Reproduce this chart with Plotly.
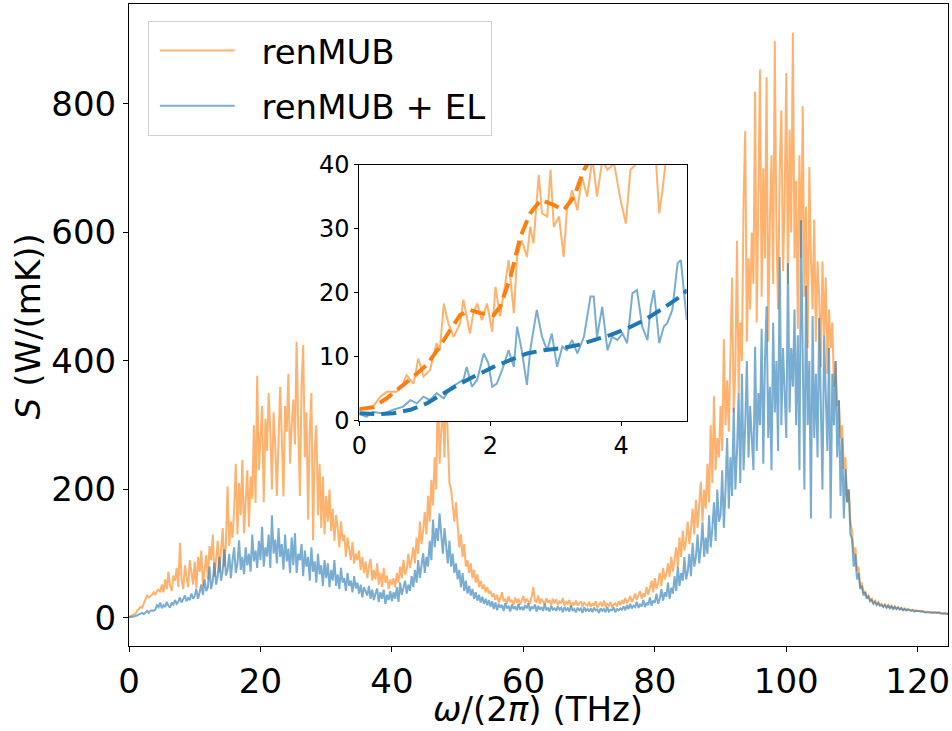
import numpy as np
import plotly.graph_objects as go

# ---------------- data ----------------
freq_step = 0.25
freq = np.round(np.arange(0, 125, freq_step), 2)  # THz grid 0..124.75

renmub = [
    1.7, 3, 4.5, 6, 7, 11, 15, 17, 16, 22, 27, 35, 32, 34, 36, 40, 36, 42, 44, 40,
    52, 40, 60, 45, 72, 50, 42, 66, 58, 78, 48, 117, 60, 45, 82, 64, 48, 90, 66, 52,
    88, 46, 95, 72, 105, 50, 76, 98, 60, 112, 90, 130, 64, 100, 120, 70, 108, 140, 80, 118,
    205, 112, 150, 125, 170, 240, 130, 210, 160, 246, 132, 190, 230, 142, 220, 185, 300, 179, 377, 230,
    280, 330, 180, 310, 260, 350, 290, 200, 320, 270, 190, 300, 360, 280, 189, 330, 290, 380, 240, 300,
    340, 270, 430, 300, 190, 360, 425, 250, 320, 153, 290, 350, 121, 260, 300, 160, 240, 140, 220, 130,
    190, 150, 200, 135, 170, 120, 160, 140, 110, 150, 120, 130, 95, 125, 105, 90, 118, 85, 100, 90,
    105, 75, 95, 70, 88, 62, 80, 92, 58, 75, 60, 85, 52, 70, 48, 78, 55, 66, 45, 60,
    52, 62, 48, 70, 55, 80, 62, 90, 68, 75, 100, 78, 92, 110, 85, 125, 100, 150, 115, 135,
    165, 130, 190, 150, 215, 175, 250, 200, 386, 240, 290, 330, 250, 370, 280, 210, 200, 170, 150, 180,
    140, 110, 130, 95, 115, 80, 90, 70, 85, 62, 75, 55, 68, 48, 58, 45, 52, 40, 48, 38,
    42, 33, 38, 28, 36, 24, 32, 40, 26, 30, 22, 34, 25, 28, 20, 32, 24, 30, 21, 27,
    34, 23, 30, 26, 22, 33, 48, 27, 25, 35, 22, 30, 26, 21, 31, 24, 28, 20, 30, 23,
    29, 20, 26, 24, 31, 19, 25, 22, 28, 17, 24, 20, 27, 19, 23, 26, 18, 24, 21, 19,
    25, 17, 22, 20, 26, 16, 21, 24, 18, 27, 17, 22, 19, 25, 16, 21, 23, 18, 26, 20,
    28, 22, 31, 24, 27, 34, 25, 30, 38, 28, 35, 42, 30, 38, 33, 48, 36, 45, 58, 40,
    62, 45, 55, 70, 50, 78, 60, 68, 85, 64, 95, 72, 88, 110, 80, 125, 95, 136, 105, 120,
    150, 115, 140, 170, 130, 184, 140, 175, 212, 150, 200, 170, 240, 180, 300, 210, 345, 230, 280, 250,
    330, 260, 434, 300, 370, 290, 420, 530, 320, 390, 587, 350, 460, 400, 650, 758, 430, 560, 480, 600,
    520, 819, 460, 650, 854, 500, 700, 560, 842, 430, 620, 720, 520, 898, 600, 480, 700, 790, 540, 650,
    848, 520, 760, 600, 911, 560, 680, 450, 720, 560, 797, 500, 640, 420, 702, 560, 480, 620, 430, 555,
    500, 390, 555, 440, 530, 380, 480, 420, 460, 360, 400, 330, 339, 280, 300, 232, 250, 180, 200, 150,
    136, 100, 110, 73, 80, 47, 55, 38, 42, 32, 35, 28, 30, 24, 27, 22, 25, 20, 22, 18,
    22, 17, 20, 16, 19, 15, 18, 14, 17, 14, 16, 13, 15, 12, 14, 13, 12, 13, 11, 12,
    12, 11, 10, 11, 10, 9, 10, 9, 9, 8, 9, 8, 8, 9, 8, 7, 8, 7, 7, 7,
]

renmub_el = [
    1.1, 1.2, 1.7, 2.2, 3.5, 3.8, 5.5, 6.5, 8, 6, 9, 11, 8, 11, 12, 11, 13, 20, 17, 24,
    15, 20, 17, 25, 19, 16, 24, 21, 28, 22, 25, 32, 24, 29, 35, 26, 31, 28, 38, 30,
    34, 45, 30, 40, 52, 36, 60, 42, 48, 80, 45, 58, 86, 52, 65, 95, 58, 72, 107, 66,
    75, 100, 62, 90, 110, 70, 85, 121, 75, 95, 68, 110, 82, 100, 72, 130, 88, 105, 78, 120,
    90, 142, 80, 110, 96, 130, 78, 160, 100, 122, 85, 140, 95, 115, 75, 130, 88, 108, 70, 125,
    82, 132, 70, 100, 90, 115, 65, 105, 80, 95, 58, 110, 72, 88, 55, 100, 68, 82, 50, 90,
    62, 85, 48, 75, 58, 90, 50, 68, 45, 78, 55, 62, 42, 70, 50, 58, 40, 65, 46, 55,
    38, 52, 32, 48, 42, 35, 50, 30, 44, 28, 38, 46, 25, 40, 30, 44, 22, 36, 28, 42,
    26, 40, 30, 48, 25, 55, 36, 45, 58, 38, 52, 42, 65, 48, 75, 55, 90, 62, 80, 101,
    70, 95, 80, 120, 90, 153, 110, 140, 120, 163, 130, 100, 140, 110, 85, 120, 80, 100, 70, 85,
    60, 75, 48, 70, 42, 58, 38, 50, 35, 45, 30, 40, 27, 36, 24, 33, 22, 30, 20, 28,
    18, 26, 14, 24, 12, 22, 16, 20, 11, 23, 15, 19, 10, 21, 14, 18, 12, 22, 13, 17,
    12, 20, 15, 23, 11, 18, 14, 21, 10, 19, 13, 17, 11, 22, 12, 16, 10, 19, 13, 15,
    11, 18, 13, 16, 9, 17, 12, 15, 10, 19, 11, 14, 9, 16, 12, 15, 8, 17, 11, 14,
    10, 15, 9, 16, 12, 13, 8, 15, 11, 14, 9, 17, 10, 13, 12, 16, 9, 14, 12, 15,
    13, 18, 12, 20, 14, 22, 15, 19, 17, 25, 16, 21, 18, 28, 17, 24, 20, 32, 19, 27,
    24, 38, 22, 30, 45, 27, 40, 33, 55, 30, 47, 38, 65, 42, 80, 50, 70, 58, 95, 60,
    72, 100, 65, 117, 80, 95, 130, 85, 110, 149, 95, 125, 100, 160, 110, 140, 180, 120, 200, 150,
    160, 230, 140, 200, 280, 170, 250, 190, 327, 200, 260, 350, 210, 380, 230, 300, 400, 250, 330, 280,
    230, 422, 260, 350, 300, 450, 240, 400, 485, 280, 360, 230, 460, 320, 400, 260, 562, 300, 420, 350,
    280, 552, 320, 420, 360, 480, 300, 440, 230, 619, 350, 200, 517, 300, 400, 155, 470, 280, 380, 250,
    467, 300, 200, 440, 350, 260, 420, 155, 380, 300, 400, 250, 339, 190, 280, 155, 232, 180, 200, 130,
    123, 80, 100, 60, 70, 45, 50, 35, 40, 30, 33, 26, 28, 22, 25, 20, 23, 19, 20, 17,
    20, 16, 19, 15, 18, 14, 17, 14, 16, 13, 15, 12, 14, 12, 13, 12, 11, 12, 10, 11,
    11, 10, 10, 10, 9, 9, 9, 8, 9, 8, 8, 8, 8, 8, 7, 7, 7, 7, 7, 6,
]

# inset: low-frequency zoom
inset_freq_o = [0, 0.21, 0.32, 0.42, 0.57, 0.67, 0.72, 0.83, 0.90, 0.98, 1.08, 1.18, 1.23,
                1.29, 1.36, 1.44, 1.54, 1.59, 1.69, 1.74, 1.80, 1.87, 1.95, 2.03, 2.08,
                2.15, 2.23, 2.28, 2.36, 2.41, 2.48, 2.56, 2.61, 2.66, 2.74, 2.79, 2.87,
                2.92, 2.97, 3.05, 3.12, 3.17, 3.25, 3.33, 3.40, 3.48, 3.56, 3.63, 3.71,
                3.79, 3.89, 3.99, 4.07, 4.14, 4.24, 4.40, 4.53, 4.58, 4.63, 4.68, 4.80, 5.0]
inset_renmub = [1.7, 2.2, 3.75, 4.5, 4.5, 5.8, 7.1, 5.8, 9.7, 6.9, 7.9, 12.1, 11.0,
                18.3, 15.2, 13.1, 15.2, 18.9, 13.6, 16.8, 18.3, 15.7, 18.3, 13.9, 20.9,
                16.3, 21.5, 25.1, 16.8, 25.6, 28.2, 25.6, 30.3, 27.7, 38.4, 32.4, 31.9,
                39.2, 30.3, 31.9, 25.6, 32.9, 36.0, 32.9, 38.1, 35.0, 41.0, 35.0, 40.7,
                39.2, 40.2, 34.5, 30.8, 39.2, 40.2, 42.0, 40.7, 32.4, 36.0, 40.7, 46.0, 50.0]

inset_freq_b = [0, 0.11, 0.21, 0.37, 0.52, 0.67, 0.78, 0.88, 0.98, 1.08, 1.18, 1.29, 1.39,
                1.49, 1.59, 1.64, 1.72, 1.80, 1.90, 1.97, 2.03, 2.10, 2.18, 2.28, 2.36,
                2.41, 2.48, 2.56, 2.61, 2.71, 2.79, 2.87, 2.94, 3.02, 3.10, 3.17, 3.25,
                3.33, 3.43, 3.53, 3.58, 3.63, 3.71, 3.79, 3.86, 3.94, 4.02, 4.09, 4.17,
                4.24, 4.32, 4.40, 4.45, 4.50, 4.58, 4.65, 4.70, 4.78, 4.86, 4.91, 4.96, 5.0]
inset_renmub_el = [1.1, 0.6, 1.4, 1.1, 1.7, 2.2, 3.2, 2.7, 3.75, 3.2, 4.3, 3.5, 5.1,
                   5.8, 6.4, 8.4, 5.3, 6.4, 10.5, 9.0, 5.3, 5.8, 7.9, 11.0, 8.4,
                   14.7, 11.0, 5.6, 11.0, 17.3, 13.1, 11.0, 13.6, 8.4, 11.6, 11.0, 12.6,
                   10.5, 13.1, 19.4, 19.4, 13.1, 17.8, 11.0, 13.1, 12.6, 13.6, 12.1, 19.9,
                   20.4, 14.7, 12.6, 17.8, 20.4, 12.1, 14.7, 15.2, 17.3, 24.6, 25.1, 19.4, 15.7]

fit_freq_o = [0, 0.21, 0.42, 0.62, 0.83, 1.03, 1.23, 1.39, 1.54, 1.69, 1.85, 2.05, 2.15,
              2.31, 2.46, 2.61, 2.77, 2.97, 3.12, 3.28, 3.43, 3.48, 3.60, 3.80]
fit_renmub = [1.8, 2.1, 3.5, 5.1, 6.9, 8.7, 11.6, 14.2, 16.5, 17.3, 16.8, 16.5, 17.8,
              22.5, 28.75, 32.4, 34.5, 33.7, 32.9, 35.0, 39.2, 40.0, 42.0, 44.0]

fit_freq_b = [0, 0.27, 0.52, 0.78, 1.03, 1.28, 1.54, 1.79, 2.05, 2.31, 2.56, 2.82, 3.07,
              3.33, 3.58, 3.84, 4.09, 4.35, 4.60, 4.86, 5.01]
fit_renmub_el = [1.15, 1.0, 1.15, 1.7, 2.7, 4.3, 5.8, 7.1, 8.4, 9.5, 10.5, 11.0, 11.3,
                 11.8, 12.6, 13.4, 14.4, 15.7, 17.3, 19.1, 20.4]

main_xticks = [0, 20, 40, 60, 80, 100, 120]
main_yticks = [0, 200, 400, 600, 800]
inset_xticks = [0, 2, 4]
inset_yticks = [0, 10, 20, 30, 40]

ORANGE = "#ff7f0e"
BLUE = "#1f77b4"
FONT = "DejaVu Sans"
NB = "\u00a0"

# ---------------- figure ----------------
fig = go.Figure()

fig.add_trace(go.Scatter(x=freq, y=renmub, mode="lines", name=NB * 2 + "renMUB",
                         line=dict(color=ORANGE, width=2), opacity=0.6,
                         legendgroup="a", xaxis="x", yaxis="y"))
fig.add_trace(go.Scatter(x=freq, y=renmub_el, mode="lines", name=NB * 2 + "renMUB + EL",
                         line=dict(color=BLUE, width=2), opacity=0.6,
                         legendgroup="b", xaxis="x", yaxis="y"))

fig.add_trace(go.Scatter(x=inset_freq_o, y=inset_renmub, mode="lines", showlegend=False,
                         line=dict(color=ORANGE, width=2), opacity=0.6,
                         xaxis="x2", yaxis="y2"))
fig.add_trace(go.Scatter(x=inset_freq_b, y=inset_renmub_el, mode="lines", showlegend=False,
                         line=dict(color=BLUE, width=2), opacity=0.6,
                         xaxis="x2", yaxis="y2"))
fig.add_trace(go.Scatter(x=fit_freq_o, y=fit_renmub, mode="lines", showlegend=False,
                         line=dict(color=ORANGE, width=4, dash="15px,7px"),
                         xaxis="x2", yaxis="y2"))
fig.add_trace(go.Scatter(x=fit_freq_b, y=fit_renmub_el, mode="lines", showlegend=False,
                         line=dict(color=BLUE, width=4, dash="15px,7px"),
                         xaxis="x2", yaxis="y2"))


def axis_style(ticklen, size):
    return dict(showline=True, linecolor="black", linewidth=1, mirror=True,
                ticks="outside", ticklen=ticklen, tickcolor="black", tickwidth=1,
                showgrid=False, zeroline=False, automargin=False,
                tickfont=dict(family=FONT, size=size, color="black"))


fig.update_layout(
    width=952, height=731,
    margin=dict(l=129, r=4, t=4, b=85),
    paper_bgcolor="white", plot_bgcolor="white",
    font=dict(family=FONT, size=34, color="black"),
    xaxis=dict(range=[0, 124.6], tickvals=main_xticks, domain=[0, 1], **axis_style(5, 34)),
    yaxis=dict(range=[-43.6, 955.6], tickvals=main_yticks, domain=[0, 1], **axis_style(5, 34)),
    xaxis2=dict(range=[0, 5.0], tickvals=inset_xticks, domain=[0.2812, 0.681],
                anchor="y2", **axis_style(4, 24)),
    yaxis2=dict(range=[0, 40], tickvals=inset_yticks, domain=[0.351, 0.7497],
                anchor="x2", **axis_style(4, 24)),
    legend=dict(x=0.023, y=0.9735, xanchor="left", yanchor="top",
                bgcolor="rgba(255,255,255,0.8)", bordercolor="#d0d0d0", borderwidth=1,
                font=dict(family=FONT, size=34), itemwidth=75, indentation=6,
                traceorder="grouped", tracegroupgap=8),
    shapes=[dict(type="rect", xref="x2", yref="y2", x0=0, x1=5, y0=0, y1=40,
                 fillcolor="white", line=dict(width=0), layer="below")],
    annotations=[
        dict(text="<i>ω</i>/(2<i>π</i>) (THz)", xref="paper", yref="paper",
             x=0.4988, y=-0.0985, xanchor="center", yanchor="middle", showarrow=False,
             font=dict(family=FONT, size=34, color="black")),
        dict(text="<i>S</i> (W/(mK))", xref="paper", yref="paper", textangle=-90,
             x=-0.1239, y=0.4974, xanchor="center", yanchor="middle", showarrow=False,
             font=dict(family=FONT, size=34, color="black")),
    ],
)

fig.write_html("out.html")
